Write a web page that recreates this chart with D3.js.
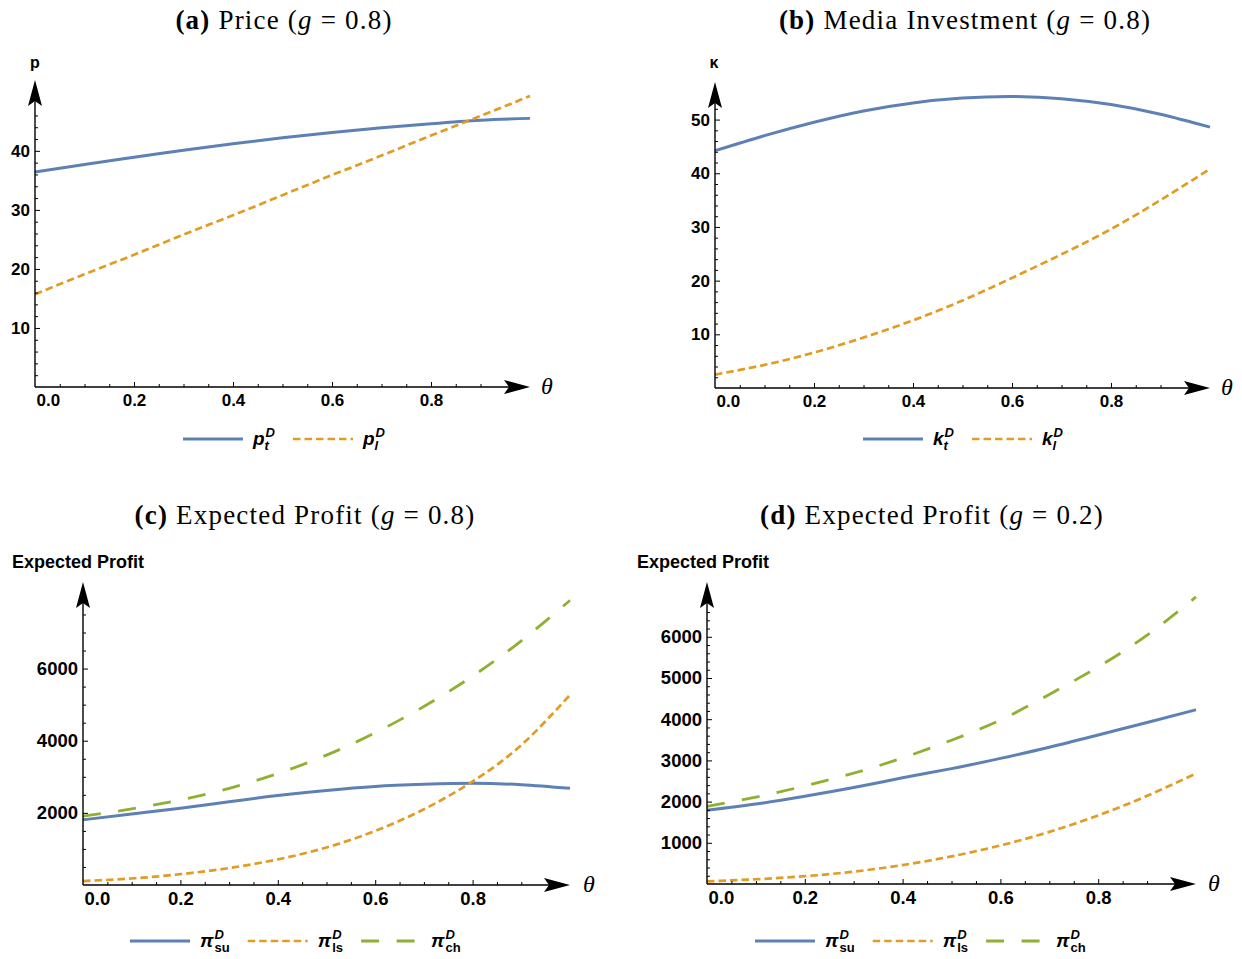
<!DOCTYPE html>
<html>
<head>
<script src="https://d3js.org/d3.v7.min.js"></script>
<style>
  body { margin: 0; background: #fff; }
  .tick text { font-family: "Liberation Sans", Arial, sans-serif; font-weight: bold; fill: #000; }
  .tick line { stroke: #000; stroke-width: 1; }
  .title { font-family: "Liberation Serif", "Times New Roman", serif; font-size: 27px; letter-spacing: 1.2px; }
  .axlab { font-family: "Liberation Sans", Arial, sans-serif; font-weight: bold; }
  .leg { font-family: "Liberation Sans", Arial, sans-serif; font-weight: bold; }
</style>
</head>
<body>
<script>
// theta grid used by every curve
var theta = [0, 0.1, 0.2, 0.3, 0.4, 0.5, 0.6, 0.7, 0.8, 0.9, 1.0];

// (a) price, g = 0.8
var priceT = [36.4, 37.7, 38.9, 40.1, 41.2, 42.2, 43.1, 43.9, 44.6, 45.2, 45.5];
var priceL = [15.7, 19.1, 22.4, 25.8, 29.1, 32.5, 35.9, 39.2, 42.6, 45.9, 49.3];

// (b) media investment, g = 0.8
var mediaT = [44.2, 47.0, 49.5, 51.6, 53.1, 54.0, 54.3, 53.9, 52.8, 51.0, 48.6];
var mediaL = [2.5, 4.3, 6.6, 9.4, 12.6, 16.3, 20.5, 24.9, 29.6, 35.0, 40.8];

// (c) expected profit, g = 0.8
var profitSuC = [1807, 1970, 2130, 2310, 2480, 2620, 2730, 2790, 2820, 2780, 2680];
var profitLsC = [110, 180, 300, 470, 710, 1040, 1500, 2100, 2870, 3880, 5270];
var profitChC = [1908, 2110, 2360, 2680, 3090, 3600, 4220, 4950, 5790, 6770, 7890];

// (d) expected profit, g = 0.2
var profitSuD = [1789, 1940, 2130, 2340, 2577, 2800, 3049, 3320, 3618, 3920, 4228];
var profitLsD = [65, 115, 190, 300, 460, 670, 935, 1265, 1665, 2140, 2683];
var profitChD = [1886, 2110, 2380, 2690, 3060, 3490, 3980, 4600, 5270, 6040, 6967];

// tick labels
var xMajor = [0, 0.2, 0.4, 0.6, 0.8];
var yMajorA = [10, 20, 30, 40];
var yMajorB = [10, 20, 30, 40, 50];
var yMajorC = [2000, 4000, 6000];
var yMajorD = [1000, 2000, 3000, 4000, 5000, 6000];

var blue = '#5E81B5', orange = '#E19C24', green = '#8FB032';
var styles = {
	solid:  { color: blue,   width: 3,   dash: null },
	short:  { color: orange, width: 2.7, dash: '7.5,4' },
	long:   { color: green,  width: 2.8, dash: '18,17.5' }
};

var panels = [
	{ tag: '(a)', name: ' Price (', g: '0.8', tx: 284, ty: 29,
	  x0: 35, x1: 530, y0: 387, yTop: 80, yMax: 52, yMajor: yMajorA, yMinor: 2,
	  fs: 17, yLab: 'p', yLabX: 35, yLabY: 68, yLabSize: 16, thX: 547, thY: 394,
	  legY: 439, legX: 183,
	  series: [
		{ v: priceT, s: 'solid', main: 'p', sub: 't', subItalic: true },
		{ v: priceL, s: 'short', main: 'p', sub: 'l', subItalic: true }
	  ] },
	{ tag: '(b)', name: ' Media Investment (', g: '0.8', tx: 965, ty: 29,
	  x0: 715, x1: 1210, y0: 388, yTop: 82, yMax: 57, yMajor: yMajorB, yMinor: 2,
	  fs: 17, yLab: 'κ', yLabX: 714, yLabY: 68, yLabSize: 16, thX: 1227, thY: 395,
	  legY: 439, legX: 863,
	  series: [
		{ v: mediaT, s: 'solid', main: 'k', sub: 't', subItalic: true },
		{ v: mediaL, s: 'short', main: 'k', sub: 'l', subItalic: true }
	  ] },
	{ tag: '(c)', name: ' Expected Profit (', g: '0.8', tx: 305, ty: 524,
	  x0: 83, x1: 570, y0: 885, yTop: 582, yMax: 8400, yMajor: yMajorC, yMinor: 500,
	  fs: 18.5, yLab: 'Expected Profit', yLabX: 12, yLabY: 568, yLabSize: 18, thX: 589, thY: 892,
	  legY: 941, legX: 130,
	  series: [
		{ v: profitSuC, s: 'solid', main: 'π', sub: 'su' },
		{ v: profitLsC, s: 'short', main: 'π', sub: 'ls' },
		{ v: profitChC, s: 'long',  main: 'π', sub: 'ch' }
	  ] },
	{ tag: '(d)', name: ' Expected Profit (', g: '0.2', tx: 932, ty: 524,
	  x0: 707, x1: 1196, y0: 884, yTop: 582, yMax: 7330, yMajor: yMajorD, yMinor: 200,
	  fs: 18.5, yLab: 'Expected Profit', yLabX: 637, yLabY: 568, yLabSize: 18, thX: 1214, thY: 891,
	  legY: 941, legX: 755,
	  series: [
		{ v: profitSuD, s: 'solid', main: 'π', sub: 'su' },
		{ v: profitLsD, s: 'short', main: 'π', sub: 'ls' },
		{ v: profitChD, s: 'long',  main: 'π', sub: 'ch' }
	  ] }
];

var svg = d3.select('body').append('svg')
	.attr('width', 1242)
	.attr('height', 959);

var arrowLen = 26, arrowHalf = 7;

panels.forEach(function(p) {
	var x = d3.scaleLinear().domain([0, 1]).range([p.x0, p.x1]),
		y = d3.scaleLinear().domain([0, p.yMax]).range([p.y0, p.yTop]);
	var g = svg.append('g');

	/** title **/
	var t = g.append('text').attr('class', 'title')
		.attr('x', p.tx).attr('y', p.ty).attr('text-anchor', 'middle');
	t.append('tspan').attr('font-weight', 'bold').text(p.tag);
	t.append('tspan').text(p.name);
	t.append('tspan').attr('font-style', 'italic').text('g');
	t.append('tspan').text(' = ' + p.g + ')');

	/** curves **/
	var line = d3.line()
		.x(function(d) { return x(d[0]); })
		.y(function(d) { return y(d[1]); })
		.curve(d3.curveNatural);

	p.series.forEach(function(s) {
		var st = styles[s.s];
		g.append('path')
			.datum(theta.map(function(th, i) { return [th, s.v[i]]; }))
			.attr('d', line)
			.attr('fill', 'none')
			.attr('stroke', st.color)
			.attr('stroke-width', st.width)
			.attr('stroke-dasharray', st.dash);
	});

	/** x axis **/
	var xMinor = d3.range(1, 20).map(function(i) { return i * 0.05; })
		.filter(function(v) { return Math.round(v * 100) % 20 !== 0 && x(v) < p.x1 - arrowLen; });
	g.append('g')
		.attr('transform', 'translate(0,' + p.y0 + ')')
		.call(d3.axisBottom(x).tickValues(xMinor).tickSizeInner(-3).tickSizeOuter(0).tickFormat(''))
		.call(function(a) { a.select('.domain').remove(); });
	var xa = g.append('g')
		.attr('transform', 'translate(0,' + p.y0 + ')')
		.call(d3.axisBottom(x).tickValues(xMajor).tickSizeInner(-5).tickSizeOuter(0)
			.tickPadding(7).tickFormat(d3.format('.1f')))
		.call(function(a) { a.select('.domain').remove(); });
	xa.selectAll('.tick text').style('font-size', p.fs + 'px');
	xa.selectAll('.tick').filter(function(d) { return d === 0; })
		.call(function(tk) {
			tk.select('line').remove();
			tk.select('text').attr('text-anchor', 'start').attr('x', 1);
		});

	/** y axis **/
	var yMinor = d3.range(p.yMinor, p.yMax, p.yMinor)
		.filter(function(v) { return p.yMajor.indexOf(v) < 0 && y(v) > p.yTop + arrowLen; });
	g.append('g')
		.attr('transform', 'translate(' + p.x0 + ',0)')
		.call(d3.axisLeft(y).tickValues(yMinor).tickSizeInner(-3).tickSizeOuter(0).tickFormat(''))
		.call(function(a) { a.select('.domain').remove(); });
	var ya = g.append('g')
		.attr('transform', 'translate(' + p.x0 + ',0)')
		.call(d3.axisLeft(y).tickValues(p.yMajor).tickSizeInner(-5).tickSizeOuter(0)
			.tickPadding(5).tickFormat(d3.format('d')))
		.call(function(a) { a.select('.domain').remove(); });
	ya.selectAll('.tick text').style('font-size', p.fs + 'px');

	/** axis lines with arrow heads **/
	g.append('line')
		.attr('x1', p.x0).attr('x2', p.x1 - 10)
		.attr('y1', p.y0).attr('y2', p.y0)
		.attr('stroke', '#000').attr('stroke-width', 1.4);
	g.append('line')
		.attr('x1', p.x0).attr('x2', p.x0)
		.attr('y1', p.y0).attr('y2', p.yTop + 10)
		.attr('stroke', '#000').attr('stroke-width', 1.4);
	var head = 'M0,0L' + (-arrowLen) + ',' + (-arrowHalf) + 'L' + (-arrowLen + 5) + ',0L' + (-arrowLen) + ',' + arrowHalf + 'Z';
	g.append('path').attr('d', head)
		.attr('transform', 'translate(' + p.x1 + ',' + p.y0 + ')');
	g.append('path').attr('d', head)
		.attr('transform', 'translate(' + p.x0 + ',' + p.yTop + ') rotate(-90)');

	/** axis labels **/
	g.append('text').attr('class', 'axlab')
		.attr('x', p.yLabX).attr('y', p.yLabY)
		.attr('text-anchor', p.yLab.length > 1 ? 'start' : 'middle')
		.style('font-size', p.yLabSize + 'px')
		.text(p.yLab);
	g.append('text')
		.attr('x', p.thX).attr('y', p.thY)
		.attr('text-anchor', 'middle')
		.style('font-family', '"Liberation Serif", serif')
		.style('font-style', 'italic')
		.style('font-size', '24px')
		.text('θ');

	/** legend **/
	var lx = p.legX;
	p.series.forEach(function(s) {
		var st = styles[s.s];
		g.append('line')
			.attr('x1', lx).attr('x2', lx + 60)
			.attr('y1', p.legY).attr('y2', p.legY)
			.attr('stroke', st.color)
			.attr('stroke-width', st.width)
			.attr('stroke-dasharray', st.dash);
		var tx = lx + 70;
		var m = g.append('text').attr('class', 'leg')
			.attr('x', tx).attr('y', p.legY + 6)
			.style('font-size', '19px').style('font-style', 'italic')
			.text(s.main);
		var w = m.node().getComputedTextLength();
		var sup = g.append('text').attr('class', 'leg')
			.attr('x', tx + w + 1).attr('y', p.legY - 2)
			.style('font-size', '13px').style('font-style', 'italic')
			.text('D');
		var sub = g.append('text').attr('class', 'leg')
			.attr('x', tx + w + (s.subItalic ? 0 : 1)).attr('y', p.legY + 11)
			.style('font-size', '13px').style('font-style', s.subItalic ? 'italic' : 'normal')
			.text(s.sub);
		var lw = w + 1 + Math.max(sup.node().getComputedTextLength(), sub.node().getComputedTextLength());
		lx = tx + lw + 18;
	});
});
</script>
</body>
</html>
